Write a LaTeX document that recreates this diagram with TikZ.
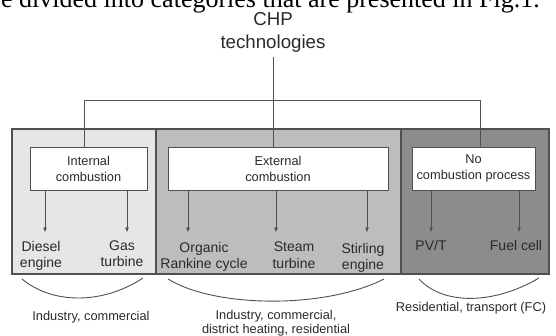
\documentclass[tikz,border=0pt]{standalone}
\usepackage{fontspec}
\setmainfont{Liberation Sans}
\newfontfamily\serifx{Liberation Serif}
\usetikzlibrary{arrows.meta}
\definecolor{txt}{HTML}{2A2A2A}
\definecolor{ln}{HTML}{505050}
\definecolor{pA}{HTML}{E6E6E6}
\definecolor{pB}{HTML}{BDBDBD}
\definecolor{pC}{HTML}{8C8C8C}
\begin{document}
\begin{tikzpicture}[x=1pt,y=-1pt,
  panel/.style={draw=ln, line width=1.1pt},
  catbox/.style={draw=ln, fill=white, line width=0.8pt, minimum height=43pt, align=center, inner sep=0pt, text=txt, font=\fontsize{12.8}{16}\selectfont},
  leaf/.style={anchor=north, align=center, text=txt, font=\fontsize{14}{16.5}\selectfont, inner sep=0pt},
  arr/.style={draw=ln, line width=0.8pt, -{Triangle[length=4.5pt,width=3.5pt]}},
  conn/.style={draw=ln, line width=0.8pt},
  note/.style={anchor=north, align=center, text=txt, font=\fontsize{12.8}{14}\selectfont, inner sep=0pt},
  rootlbl/.style={anchor=north, align=center, text=txt, font=\fontsize{18.7}{22.5}\selectfont, inner sep=0pt},
  brace/.style={draw=ln, line width=0.9pt}
]
\useasboundingbox (0,0) rectangle (556,335);
\clip (0,0) rectangle (556,335);

% cropped caption text from the page above
\node[anchor=base east, inner sep=0pt, font=\serifx\fontsize{26}{30}\selectfont, text=black] (cap) at (540,7) {be divided into categories that are presented in Fig.1.};

% panels
\path[panel, fill=pA] (12,129) rectangle (156,274);
\path[panel, fill=pB] (156,129) rectangle (401,274);
\path[panel, fill=pC] (401,129) rectangle (549,274);

% root
\node[rootlbl] (root) at (273,12.5) {CHP\\technologies};

% category boxes
\node[catbox, minimum width=117pt] (icb) at (88.5,168.5) {Internal\\combustion};
\node[catbox, minimum width=220pt] (ecb) at (278,168.5) {External\\combustion};
\node[catbox, minimum width=123pt] (ncb) at (473.5,168.5) {No\\combustion process};

% tree connectors
\coordinate (hl) at (84,100);
\coordinate (hr) at (480,100);
\draw[conn] ([yshift=-5pt]root.south) -- (root.south |- ecb.north);
\draw[conn] (hl) -- (hr);
\draw[conn] (hl) -- (hl |- icb.north);
\draw[conn] (hr) -- (hr |- ncb.north);

% leaves
\node[leaf] (diesel) at (41,241) {Diesel\\engine};
\node[leaf] (gas) at (122,240.5) {Gas\\turbine};
\node[leaf] (orc) at (204,242) {Organic\\Rankine cycle};
\node[leaf] (steam) at (294,242) {Steam\\turbine};
\node[leaf] (stir) at (363,243) {Stirling\\engine};
\node[leaf] (pvt) at (431,240.5) {PV/T};
\node[leaf] (fc) at (516,240.5) {Fuel cell};

% arrow tips
\coordinate (t1) at (45,232);
\coordinate (t2) at (127,232);
\coordinate (t3) at (188,232);
\coordinate (t4) at (276,232);
\coordinate (t5) at (367,232);
\coordinate (t6) at (431,232);
\coordinate (t7) at (519,232);
\draw[arr] (icb.south -| t1) -- (t1);
\draw[arr] (icb.south -| t2) -- (t2);
\draw[arr] (ecb.south -| t3) -- (t3);
\draw[arr] (ecb.south -| t4) -- (t4);
\draw[arr] (ecb.south -| t5) -- (t5);
\draw[arr] (ncb.south -| t6) -- (t6);
\draw[arr] (ncb.south -| t7) -- (t7);

% braces
\coordinate (b1a) at (22,279);
\coordinate (b1b) at (143,278);
\coordinate (b2a) at (168,279);
\coordinate (b2b) at (384,279);
\coordinate (b3a) at (419,279);
\coordinate (b3b) at (539,278);
\draw[brace] (b1a) .. controls (52,304) and (102,305) .. (b1b);
\draw[brace] (b2a) .. controls (215,308) and (325,309) .. (b2b);
\draw[brace] (b3a) .. controls (443,305) and (493,305) .. (b3b);

% notes
\node[note] (n1) at (91,311) {Industry, commercial};
\node[note] (n2) at (276,310) {Industry, commercial,\\district heating, residential};
\node[note] (n3) at (471,302) {Residential, transport (FC)};
\end{tikzpicture}
\end{document}
